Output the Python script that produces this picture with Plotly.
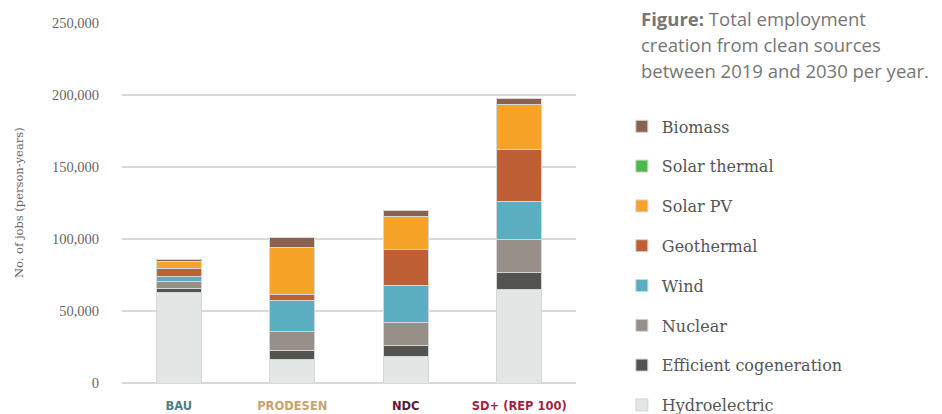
import plotly.graph_objects as go

scenarios = ["BAU", "PRODESEN", "NDC", "SD+ (REP 100)"]
scenario_colors = ["#4d7f84", "#c9a36e", "#5a1a3a", "#a81f45"]

hydroelectric = [62700, 16500, 18750, 64600]
efficient_cogeneration = [3000, 6000, 7150, 12000]
nuclear = [5100, 13000, 16200, 23400]
wind = [3500, 21500, 25500, 25900]
geothermal = [5100, 4700, 25000, 36600]
solar_pv = [4800, 32200, 22700, 31000]
solar_thermal = [0, 0, 0, 0]
biomass = [1900, 7400, 4150, 4400]

series = [
    ("Hydroelectric", hydroelectric, "#e2e7e5"),
    ("Efficient cogeneration", efficient_cogeneration, "#53544f"),
    ("Nuclear", nuclear, "#979089"),
    ("Wind", wind, "#5badc2"),
    ("Geothermal", geothermal, "#bf5f35"),
    ("Solar PV", solar_pv, "#f7a229"),
    ("Solar thermal", solar_thermal, "#4cb848"),
    ("Biomass", biomass, "#8b6150"),
]

y_ticks = [0, 50000, 100000, 150000, 200000, 250000]

fig = go.Figure()
n = len(series)
for i, (name, vals, col) in enumerate(series):
    fig.add_trace(go.Bar(
        x=scenarios, y=vals, name=name, legendgroup=name, legendrank=n - i,
        marker=dict(color=col, line=dict(color="#d6d6d6", width=1)),
    ))

ticktext = [f'<span style="color:{c}">{s}</span>' for s, c in zip(scenarios, scenario_colors)]

# the page body adds an 8px offset, so margins are set 8px smaller on top/left
fig.update_layout(
    width=942, height=414,
    margin=dict(l=114, r=374, t=15, b=39, autoexpand=False),
    barmode="stack", bargap=0.6,
    plot_bgcolor="white", paper_bgcolor="white",
    showlegend=True,
    legend=dict(
        x=1.101, xanchor="left", y=0.76, yanchor="top",
        traceorder="grouped", tracegroupgap=16, maxheight=420,
        font=dict(family="DejaVu Serif", size=16, color="#555555"),
        bgcolor="rgba(0,0,0,0)",
    ),
    xaxis=dict(
        tickmode="array", tickvals=scenarios, ticktext=ticktext,
        tickfont=dict(family="DejaVu Sans", size=11.5, weight="bold"),
        showgrid=False, showline=False, ticks="", ticklabelstandoff=14,
    ),
    yaxis=dict(
        range=[0, 250000], tickvals=y_ticks,
        ticktext=[f"{v:,}" for v in y_ticks],
        tickfont=dict(family="Liberation Serif", size=14.5, color="#666666"),
        showgrid=True, gridcolor="#d9d9d9", gridwidth=1.5,
        zeroline=True, zerolinecolor="#d9d9d9", zerolinewidth=1.5,
        showline=False, ticks="", ticklabelstandoff=22,
    ),
)

fig.add_annotation(
    text="No. of jobs (person-years)", xref="paper", yref="paper",
    x=0, y=0.5, xshift=-112, textangle=-90, showarrow=False,
    font=dict(family="DejaVu Serif", size=11.5, color="#666666"),
)

caption_lines = ["<b>Figure:</b> Total employment", "creation from clean sources", "between 2019 and 2030 per year."]
for i, line in enumerate(caption_lines):
    fig.add_annotation(
        text=line, xref="paper", yref="paper", x=1.139, xanchor="left",
        y=1, yanchor="middle", yshift=5 - 26 * i, showarrow=False,
        font=dict(family="Open Sans", size=18.5, color="#767676"),
    )

fig.write_html("out.html")
